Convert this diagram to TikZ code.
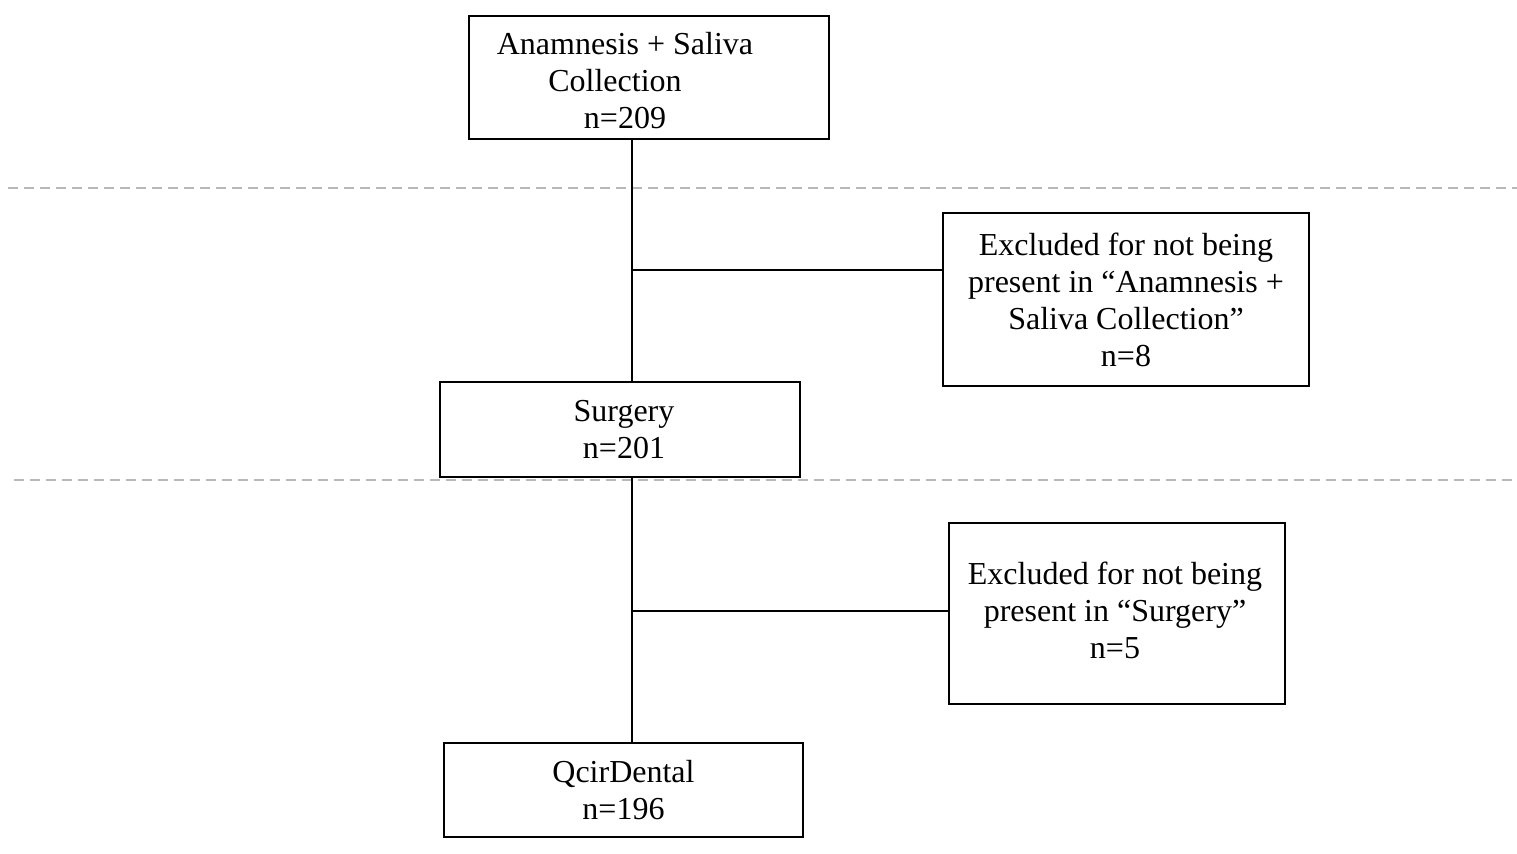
\documentclass[tikz,border=0pt]{standalone}
\usepackage{fontspec}
\setmainfont{Liberation Serif}
\begin{document}
\begin{tikzpicture}[x=0.5pt,y=-0.5pt,
  box/.style={draw=black, line width=1pt, rectangle, inner sep=0pt, align=center,
    font=\fontsize{16}{18.5}\selectfont},
  txt/.style={inner sep=0pt, align=center, font=\fontsize{16}{18.5}\selectfont},
  conn/.style={draw=black, line width=0.75pt},
  sep/.style={draw=black!28, line width=1pt, dash pattern=on 5pt off 3pt}]
\useasboundingbox (0,0) rectangle (1517,854);
% separators
\coordinate (d1a) at (8,188);
\coordinate (d1b) at (1517,188);
\coordinate (d2a) at (14,480);
\coordinate (d2b) at (1517,480);
\draw[sep] (d1a) -- (d1b);
\draw[sep] (d2a) -- (d2b);
% boxes
\node[box, minimum width=180pt, minimum height=61.5pt] (top) at (649,77.5) {};
\node[txt] (toptext) at (625,81) {Anamnesis + Saliva\\Collection\hspace*{10pt}\mbox{}\\n=209};
\node[box, minimum width=183pt, minimum height=86.5pt] (ex1) at (1126,299.5)
  {Excluded for not being\\present in ``Anamnesis +\\Saliva Collection''\\n=8};
\node[box, minimum width=180pt, minimum height=47.5pt] (surg) at (620,429.5) {};
\node[txt] (surgtext) at (624,429.5) {Surgery\\n=201};
\node[box, minimum width=168pt, minimum height=90.5pt] (ex2) at (1117,613.5) {};
\node[txt] (ex2text) at (1115,610) {Excluded for not being\\present in ``Surgery''\\n=5};
\node[box, minimum width=179.5pt, minimum height=47pt] (qcir) at (623.5,790)
  {QcirDental\\n=196};
% connectors
\coordinate (spine) at (632,0);
\coordinate (j1) at (632,270);
\coordinate (j2) at (632,611);
\draw[conn] (top.south -| spine) -- (surg.north -| spine);
\draw[conn] (surg.south -| spine) -- (qcir.north -| spine);
\draw[conn] (j1) -- (j1 -| ex1.west);
\draw[conn] (j2) -- (j2 -| ex2.west);
\end{tikzpicture}
\end{document}
